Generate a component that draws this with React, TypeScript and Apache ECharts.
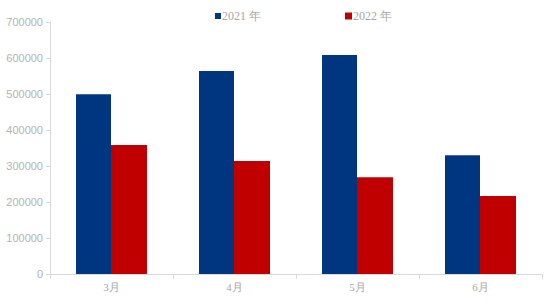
import React, { useEffect, useRef } from "react";
import * as echarts from "echarts";

const categories = ["3月", "4月", "5月", "6月"];
const series2021 = [499000, 564000, 608000, 330000];
const series2022 = [358000, 314000, 269000, 217000];
const yTicks = [0, 100000, 200000, 300000, 400000, 500000, 600000, 700000];

export default function App() {
  const ref = useRef<HTMLDivElement>(null);
  useEffect(() => {
    if (!ref.current) return;
    const chart = echarts.init(ref.current, null, { renderer: "svg" });
    const axisColor = "#d9d9d9";
    const labelColor = "#a6a6a6";
    chart.setOption({
      animation: false,
      backgroundColor: "#ffffff",
      grid: { left: 50, right: 12, top: 22, bottom: 27, containLabel: false },
      legend: [
        {
          data: ["2021 年"],
          left: 210,
          top: 5,
          itemWidth: 6,
          itemHeight: 6,
          itemGap: 0,
          icon: "rect",
          textStyle: { color: labelColor, fontSize: 12, fontFamily: "Liberation Serif", padding: [0, 0, 0, -4] },
        },
        {
          data: ["2022 年"],
          left: 340,
          top: 5,
          itemWidth: 7,
          itemHeight: 7,
          itemGap: 0,
          icon: "rect",
          textStyle: { color: labelColor, fontSize: 12, fontFamily: "Liberation Serif", padding: [0, 0, 0, -4] },
        },
      ],
      xAxis: {
        type: "category",
        data: categories,
        axisLine: { show: true, lineStyle: { color: axisColor, width: 1 } },
        axisTick: { show: true, length: 5, lineStyle: { color: axisColor } },
        axisLabel: { color: labelColor, fontSize: 11, fontFamily: "Liberation Serif", margin: 7 },
      },
      yAxis: {
        type: "value",
        min: yTicks[0],
        max: yTicks[yTicks.length - 1],
        interval: yTicks[1] - yTicks[0],
        axisLine: { show: true, lineStyle: { color: axisColor, width: 1 } },
        axisTick: { show: true, length: 4, lineStyle: { color: axisColor } },
        splitLine: { show: false },
        axisLabel: {
          color: "#b3b3b3",
          fontSize: 11,
          fontFamily: "Liberation Sans",
          margin: 7,
          formatter: (v: number) => String(v),
        },
      },
      series: [
        {
          name: "2021 年",
          type: "bar",
          data: series2021,
          barWidth: 35,
          barGap: "0%",
          itemStyle: { color: "#003580" },
        },
        {
          name: "2022 年",
          type: "bar",
          data: series2022,
          barWidth: 36,
          barGap: "0%",
          itemStyle: { color: "#c00000" },
        },
      ],
    });
    return () => chart.dispose();
  }, []);
  return <div ref={ref} style={{ width: 554, height: 301, position: "absolute", left: 0, top: 0 }} />;
}
